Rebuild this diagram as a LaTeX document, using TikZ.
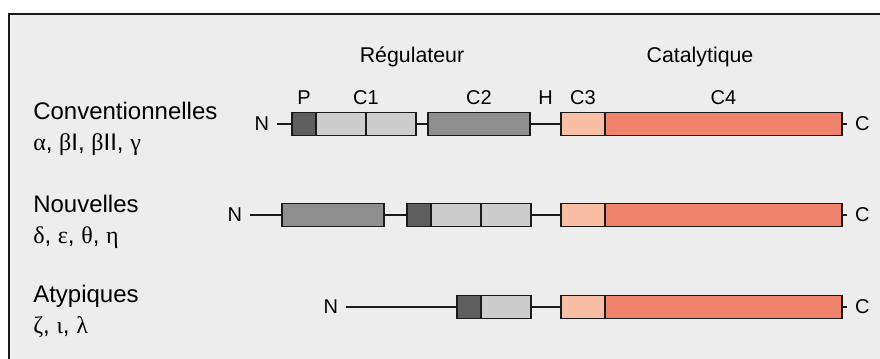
\documentclass[tikz,border=0pt]{standalone}
\usepackage{fontspec}
\setmainfont{Liberation Sans}
\newfontfamily\grec{Liberation Serif}
\usetikzlibrary{positioning,calc}
\definecolor{fond}{HTML}{EDEDED}
\definecolor{trait}{HTML}{1A1A1A}
\definecolor{pseudo}{HTML}{5E5E5E}
\definecolor{clair}{HTML}{CDCDCD}
\definecolor{moyen}{HTML}{8E8E8E}
\definecolor{peche}{HTML}{F9BFA5}
\definecolor{saumon}{HTML}{EF836B}
\newcommand{\gr}[1]{{\grec #1}}

\begin{document}
\begin{tikzpicture}[x=0.75pt, y=-0.75pt,
    seg/.style={draw=trait, line width=1.3pt, minimum height=17.25pt, inner sep=0pt, outer sep=0pt, anchor=west},
    pbox/.style={seg, fill=pseudo, minimum width=18pt},
    c1box/.style={seg, fill=clair, minimum width=37.5pt},
    c2box/.style={seg, fill=moyen, minimum width=76.5pt},
    c3box/.style={seg, fill=peche, minimum width=33pt},
    c4box/.style={seg, fill=saumon, minimum width=177.75pt},
    lien/.style={draw=trait, line width=1.3pt},
    bout/.style={inner xsep=6pt, inner ysep=0pt, outer sep=0pt, font=\fontsize{15}{18}\selectfont},
    seglbl/.style={inner sep=0pt, anchor=base, font=\fontsize{15}{18}\selectfont},
    titre/.style={inner sep=0pt, anchor=base, font=\fontsize{16}{19}\selectfont},
    famille/.style={inner sep=0pt, anchor=base west, align=left, font=\fontsize{18}{23.25}\selectfont}]
        \useasboundingbox (0,0) rectangle (880,358);
        \clip (0,0) rectangle (880,358);
        \fill[white] (0,0) rectangle (880,358);
        \draw[trait, line width=1.5pt, fill=fond] (9,13.5) rectangle (900,380);
        \node[titre] (reg) at (412,62) {Régulateur};
        \node[titre] (cat) at (700,62) {Catalytique};

        \node[famille] (conv) at (33,150) {Conventionnelles\\\gr{α}, \gr{β}I, \gr{β}II, \gr{γ}};
        \node[bout, anchor=east] (n1) at (277,124) {N};
        \node[pbox] (p1) at (292,124) {};
        \node[c1box, right=0pt of p1] (c1a1) {};
        \node[c1box, right=0pt of c1a1] (c1b1) {};
        \node[c2box, right=9pt of c1b1] (c21) {};
        \node[c3box] (c31) at (561,124) {};
        \node[c4box, right=0pt of c31] (c41) {};
        \node[bout, anchor=west] (k1) at (847,124) {C};
        \draw[lien] (n1.east) -- (p1.west) (c1b1.east) -- (c21.west)
          (c21.east) -- (c31.west) (c41.east) -- (k1.west);
        \node[seglbl] (lp) at ([yshift=6pt]p1.north) {P};
        \node[seglbl] (lc1) at ([yshift=6pt]c1a1.north east) {C1};
        \node[seglbl] (lc2) at ([yshift=6pt]c21.north) {C2};
        \node[seglbl] (lh) at ($(c21.north east)!0.5!(c31.north west)+(0,-8)$) {H};
        \node[seglbl] (lc3) at ([yshift=6pt]c31.north) {C3};
        \node[seglbl] (lc4) at ([yshift=6pt]c41.north) {C4};

        \node[famille] (nouv) at (33,243) {Nouvelles\\\gr{δ}, \gr{ε}, \gr{θ}, \gr{η}};
        \node[bout, anchor=east] (n2) at (250,215) {N};
        \node[c2box] (c22) at (282,215) {};
        \node[pbox] (p2) at (407,215) {};
        \node[c1box, right=0pt of p2] (c1a2) {};
        \node[c1box, right=0pt of c1a2] (c1b2) {};
        \node[c3box] (c32) at (561,215) {};
        \node[c4box, right=0pt of c32] (c42) {};
        \node[bout, anchor=west] (k2) at (847,215) {C};
        \draw[lien] (n2.east) -- (c22.west) (c22.east) -- (p2.west)
          (c1b2.east) -- (c32.west) (c42.east) -- (k2.west);

        \node[famille] (atyp) at (33,333) {Atypiques\\\gr{ζ}, \gr{ι}, \gr{λ}};
        \node[bout, anchor=east] (n3) at (346,307) {N};
        \node[pbox] (p3) at (457,307) {};
        \node[c1box, right=0pt of p3] (c1b3) {};
        \node[c3box] (c33) at (561,307) {};
        \node[c4box, right=0pt of c33] (c43) {};
        \node[bout, anchor=west] (k3) at (847,307) {C};
        \draw[lien] (n3.east) -- (p3.west) (c1b3.east) -- (c33.west)
          (c43.east) -- (k3.west);
\end{tikzpicture}
\end{document}
